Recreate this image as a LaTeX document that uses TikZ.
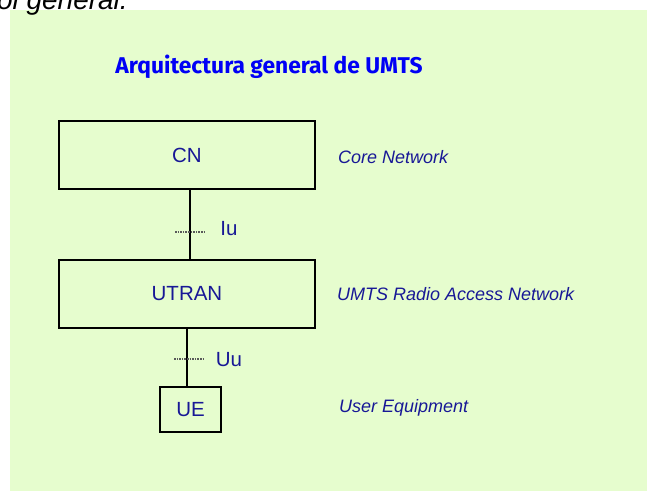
\documentclass[tikz,border=0pt]{standalone}
\usepackage{fontspec}
\setmainfont{Liberation Sans}
\newfontfamily\titlefont{Fira Sans}
\usetikzlibrary{positioning}
\definecolor{bggreen}{RGB}{230,253,206}
\definecolor{lblblue}{RGB}{24,24,150}
\definecolor{ttlblue}{RGB}{0,0,245}
\tikzset{
	netbox/.style={draw, line width=1.1pt, inner sep=0pt, font=\fontsize{20.5}{24}\selectfont, text=lblblue},
	desc/.style={anchor=west, inner sep=0pt, font=\fontsize{18}{22}\selectfont\itshape, text=lblblue},
	iface/.style={inner sep=0pt, font=\fontsize{20.5}{24}\selectfont, text=lblblue},
	ifacetick/.style={densely dotted, line width=1.6pt, gray!70!black}
}

\begin{document}
\begin{tikzpicture}[x=1pt, y=-1pt]
	\useasboundingbox (0,0) rectangle (647,491);
	\fill [bggreen] (10,10) rectangle (647,491);
	\node [anchor=base east, inner sep=0pt, font=\fontsize{28}{30}\selectfont\itshape] (frag) at (128,9) {ol general.};
	\node [text=ttlblue, font=\titlefont\bfseries\fontsize{22.8}{26}\selectfont] (title) at (269,67) {Arquitectura general de UMTS};

	\node [netbox, minimum width=256pt, minimum height=68pt] (CN) at (187,155) {CN};
	\node [netbox, minimum width=256pt, minimum height=68pt] (UTRAN) at (187,294) {UTRAN};
	\node [netbox, minimum width=61pt, minimum height=45pt] (UE) at (190.5,409.5) {UE};

	\draw [line width=1.1pt] ([xshift=3pt]CN.south) -- ([xshift=3pt]UTRAN.north);
	\draw [line width=1.1pt] (UTRAN.south) -- (UTRAN.south |- UE.north);

	\draw [ifacetick] (175,232) -- (204,232);
	\node [iface] (Iu) at (229,229) {Iu};
	\draw [ifacetick] (174,359) -- (204,359);
	\node [iface] (Uu) at (229,360) {Uu};

	\node [desc] (cndesc) at (338,157) {Core Network};
	\node [desc] (utrandesc) at (337,294) {UMTS Radio Access Network};
	\node [desc] (uedesc) at (339,408) {User Equipment};
\end{tikzpicture}
\end{document}
